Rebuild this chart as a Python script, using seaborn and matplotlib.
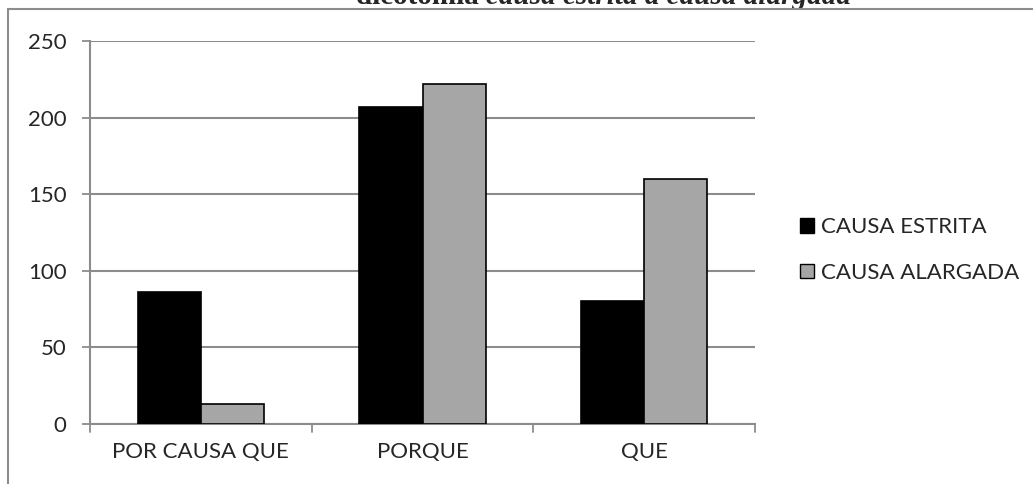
import matplotlib
matplotlib.use("Agg")
import matplotlib.pyplot as plt
from matplotlib.lines import Line2D
from matplotlib.patches import Patch
import seaborn as sns
import pandas as pd

# Data
categories = ["POR CAUSA QUE", "PORQUE", "QUE"]
series_names = ["CAUSA ESTRITA", "CAUSA ALARGADA"]
causa_estrita = [86, 207, 80]
causa_alargada = [13, 222, 160]
y_ticks = [0, 50, 100, 150, 200, 250]

colors = {"CAUSA ESTRITA": "#000000", "CAUSA ALARGADA": "#a6a6a6"}
grid_gray = "#8c8c8c"

df = pd.DataFrame({
    "categoria": categories * 2,
    "serie": [series_names[0]] * 3 + [series_names[1]] * 3,
    "valor": causa_estrita + causa_alargada,
})

sns.set_theme(style="white")
plt.rcParams["font.family"] = ["Lato", "DejaVu Sans"]

W, H = 1033, 484
fig = plt.figure(figsize=(W / 100, H / 100), dpi=100)
ax = fig.add_axes([90 / W, 1 - 424 / H, (755 - 90) / W, (424 - 41) / H])

sns.barplot(data=df, x="categoria", y="valor", hue="serie", order=categories,
            hue_order=series_names, palette=colors, width=0.57,
            edgecolor="black", linewidth=1.2, saturation=1, ax=ax, legend=False,
            zorder=3)

ax.set_ylim(0, 250)
ax.set_xlim(-0.5, 2.5)
ax.set_yticks(y_ticks)
ax.set_yticklabels([str(v) for v in y_ticks], fontsize=16)
ax.set_xlabel("")
ax.set_ylabel("")
ax.tick_params(axis="x", length=0, labelsize=16, pad=13)
ax.tick_params(axis="y", length=6, width=1.3, color=grid_gray, pad=11, direction="out", left=True)

# Horizontal gridlines
ax.yaxis.grid(True, color=grid_gray, linewidth=1.5, zorder=0)
ax.set_axisbelow(True)

for side in ["top", "right"]:
    ax.spines[side].set_visible(False)
for side in ["left", "bottom"]:
    ax.spines[side].set_color(grid_gray)
    ax.spines[side].set_linewidth(1.5)

# Category boundary tick marks below the x axis
for xb in [-0.5, 0.5, 1.5, 2.5]:
    ax.plot([xb, xb], [0, -5.5], color=grid_gray, linewidth=1.3, clip_on=False, zorder=4)

# Legend
handles = [Patch(facecolor=colors[s], edgecolor="black", linewidth=1.0) for s in series_names]
fig.legend(handles, series_names, loc="center left", bbox_to_anchor=(791 / W, 1 - 250 / H),
           frameon=False, fontsize=16, handlelength=0.65, handleheight=0.65,
           handletextpad=0.3, labelspacing=1.15, borderaxespad=0)

# Outer frame (top and left edges)
fig.add_artist(Line2D([8 / W, 1.0], [1 - 9 / H, 1 - 9 / H], color=grid_gray, linewidth=1.5))
fig.add_artist(Line2D([8 / W, 8 / W], [1 - 9 / H, 0.0], color=grid_gray, linewidth=1.5))

# Caption above the frame
t1 = fig.text(356 / W, 1 - 10 / H, "dicotomia ", fontsize=21, fontweight="bold",
              family=["Liberation Serif"], va="bottom", ha="left")
ax.annotate("causa estrita a causa alargada", xy=(1, 0), xycoords=t1,
            fontsize=21, fontweight="bold", fontstyle="italic",
            family=["Liberation Serif"], va="bottom", ha="left", annotation_clip=False)

fig.savefig("out.png", dpi=100)
